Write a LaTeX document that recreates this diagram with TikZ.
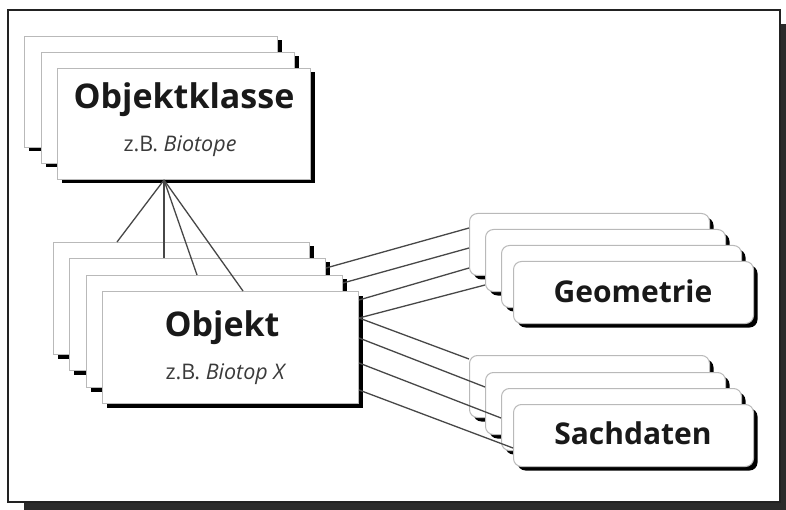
\documentclass[tikz,border=0pt]{standalone}
\usepackage{fontspec}
\setmainfont{Open Sans}
\usetikzlibrary{shadows,calc}
\definecolor{framegray}{HTML}{222222}
\definecolor{shadowgray}{HTML}{2B2B2B}
\definecolor{subgray}{HTML}{3A3A3A}
\tikzset{
  card/.style={draw=gray!55, line width=1pt, fill=white, inner sep=0pt, anchor=north west,
    drop shadow={shadow xshift=4pt, shadow yshift=-4pt, fill=black, opacity=1}},
  bigcard/.style={card, minimum width=253pt, minimum height=111pt},
  objcard/.style={card, minimum width=256pt, minimum height=112pt},
  smallcard/.style={card, rounded corners=8pt, minimum width=240pt, minimum height=62pt},
  link/.style={draw=black!72, line width=1.3pt},
  titletext/.style={font=\fontsize{34}{40}\selectfont\bfseries, anchor=base, inner sep=0pt, text=black!90},
  labeltext/.style={font=\fontsize{30}{36}\selectfont\bfseries, anchor=base, inner sep=0pt, text=black!90},
  subtext/.style={font=\fontsize{21.5}{26}\selectfont, anchor=base, inner sep=0pt, text=subgray}
}
\begin{document}
\begin{tikzpicture}[x=1pt, y=-1pt]
  \useasboundingbox (0,0) rectangle (786,510);
  % frame with shadow
  \fill[shadowgray] (24,24) rectangle (786,510);
  \draw[draw=framegray, fill=white, line width=1.6pt] (8,10) rectangle (780,502);

  % Objektklasse stack
  \node[bigcard] (ok1) at (24,36) {};
  \node[bigcard] (ok2) at (41,52) {};
  \node[bigcard] (ok3) at (57,68) {};

  % Objekt stack
  \node[objcard] (o1) at (53,242) {};
  \node[objcard] (o2) at (69,258) {};
  \node[objcard] (o3) at (86,275) {};
  \node[objcard] (o4) at (102,291) {};

  % Geometrie stack
  \node[smallcard] (g1) at (469,213) {};
  \node[smallcard] (g2) at (485,229) {};
  \node[smallcard] (g3) at (501,245) {};
  \node[smallcard] (g4) at (513,261) {};

  % Sachdaten stack
  \node[smallcard] (s1) at (469,355) {};
  \node[smallcard] (s2) at (485,372) {};
  \node[smallcard] (s3) at (501,388) {};
  \node[smallcard] (s4) at (513,404) {};

  % connectors Objektklasse -> Objekt
  \coordinate (hub) at ($(ok3.south west)+(107,0)$);
  \draw[link] (hub) -- ($(o1.north west)+(64,0)$);
  \draw[link] (hub) -- ($(o2.north west)+(95,0)$);
  \draw[link] (hub) -- ($(o3.north west)+(111,0)$);
  \draw[link] (hub) -- ($(o4.north west)+(141,0)$);

  % connectors Objekt -> Geometrie
  \draw[link] ($(o2.north east)+(0,10)$) -- ($(g1.north west)+(0,15)$);
  \draw[link] ($(o3.north east)+(0,8)$) -- ($(g1.north west)+(0,35)$);
  \draw[link] ($(o4.north east)+(0,9)$) -- ($(g1.north west)+(0,55)$);
  \draw[link] ($(o4.north east)+(0,27)$) -- ($(g2.north west)+(0,56)$);

  % connectors Objekt -> Sachdaten
  \draw[link] ($(o4.north east)+(0,27)$) -- ($(s1.north west)+(0,4)$);
  \draw[link] ($(o4.north east)+(0,47)$) -- ($(s2.north west)+(0,15)$);
  \draw[link] ($(o4.north east)+(0,72)$) -- ($(s3.north west)+(0,30)$);
  \draw[link] ($(o4.north east)+(0,99)$) -- ($(s4.north west)+(0,44)$);

  % texts
  \node[titletext] (tk) at ($(ok3.north west)+(127,41)$) {Objektklasse};
  \node[subtext] (tks) at ($(ok3.north west)+(123,84)$) {z.B. \textit{Biotope}};
  \node[titletext] (to) at ($(o4.north west)+(120,45)$) {Objekt};
  \node[subtext] (tos) at ($(o4.north west)+(124,88)$) {z.B. \textit{Biotop X}};
  \node[labeltext] (tg) at ($(g4.north west)+(120,41)$) {Geometrie};
  \node[labeltext] (ts) at ($(s4.north west)+(120,40)$) {Sachdaten};
\end{tikzpicture}
\end{document}
